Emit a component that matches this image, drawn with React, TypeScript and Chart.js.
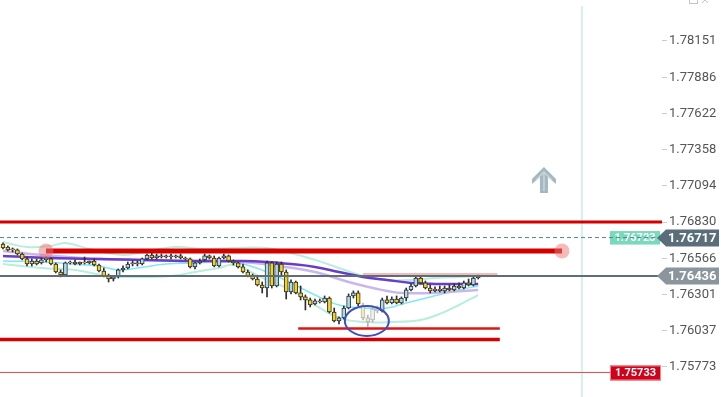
import React, { useEffect, useRef } from 'react';
import { Chart, registerables } from 'chart.js';
Chart.register(...registerables);

// ---- candle data (index = bar number) ----
const opens = [
  1.76670, 1.76648, 1.76634, 1.76627, 1.76597, 1.76561, 1.76524, 1.76546, 1.76532, 1.76554,
  1.76561, 1.76524, 1.76466, 1.76444, 1.76532, 1.76539, 1.76524, 1.76539, 1.76532, 1.76546,
  1.76517, 1.76473, 1.76437, 1.76415, 1.76430, 1.76481, 1.76495, 1.76524, 1.76532, 1.76524,
  1.76561, 1.76590, 1.76568, 1.76583, 1.76575, 1.76583, 1.76575, 1.76583, 1.76568, 1.76561,
  1.76503, 1.76532, 1.76554, 1.76583, 1.76568, 1.76510, 1.76568, 1.76583, 1.76546, 1.76532,
  1.76503, 1.76466, 1.76437, 1.76415, 1.76371, 1.76349, 1.76532, 1.76364, 1.76524, 1.76466,
  1.76320, 1.76393, 1.76313, 1.76284, 1.76262, 1.76233, 1.76255, 1.76247, 1.76276, 1.76174,
  1.76109, 1.76131, 1.76203, 1.76291, 1.76313, 1.76225, 1.76131, 1.76116, 1.76196, 1.76182,
  1.76262, 1.76240, 1.76269, 1.76240, 1.76276, 1.76335, 1.76364, 1.76422, 1.76386, 1.76349,
  1.76328, 1.76342, 1.76328, 1.76349, 1.76335, 1.76364, 1.76349, 1.76386, 1.76371, 1.76422,
];
const highs = [
  1.76678, 1.76656, 1.76641, 1.76634, 1.76605, 1.76575, 1.76561, 1.76561, 1.76568, 1.76575,
  1.76568, 1.76532, 1.76481, 1.76539, 1.76546, 1.76554, 1.76539, 1.76575, 1.76546, 1.76561,
  1.76524, 1.76495, 1.76451, 1.76437, 1.76488, 1.76510, 1.76539, 1.76546, 1.76546, 1.76568,
  1.76597, 1.76605, 1.76597, 1.76597, 1.76590, 1.76597, 1.76590, 1.76597, 1.76575, 1.76568,
  1.76539, 1.76561, 1.76597, 1.76590, 1.76583, 1.76575, 1.76597, 1.76590, 1.76554, 1.76539,
  1.76524, 1.76481, 1.76451, 1.76430, 1.76393, 1.76546, 1.76539, 1.76539, 1.76539, 1.76481,
  1.76408, 1.76400, 1.76364, 1.76298, 1.76276, 1.76269, 1.76269, 1.76291, 1.76284, 1.76203,
  1.76138, 1.76218, 1.76306, 1.76328, 1.76328, 1.76240, 1.76152, 1.76218, 1.76218, 1.76276,
  1.76291, 1.76284, 1.76291, 1.76284, 1.76349, 1.76379, 1.76437, 1.76437, 1.76400, 1.76371,
  1.76357, 1.76364, 1.76364, 1.76371, 1.76379, 1.76386, 1.76400, 1.76415, 1.76437, 1.76444,
];
const lows = [
  1.76634, 1.76619, 1.76612, 1.76590, 1.76554, 1.76510, 1.76510, 1.76517, 1.76524, 1.76539,
  1.76517, 1.76459, 1.76430, 1.76437, 1.76524, 1.76517, 1.76517, 1.76524, 1.76524, 1.76510,
  1.76466, 1.76430, 1.76393, 1.76400, 1.76422, 1.76466, 1.76488, 1.76510, 1.76510, 1.76517,
  1.76554, 1.76561, 1.76561, 1.76568, 1.76568, 1.76561, 1.76568, 1.76561, 1.76554, 1.76495,
  1.76488, 1.76524, 1.76546, 1.76561, 1.76503, 1.76503, 1.76561, 1.76539, 1.76517, 1.76495,
  1.76459, 1.76430, 1.76408, 1.76364, 1.76313, 1.76284, 1.76349, 1.76357, 1.76437, 1.76269,
  1.76306, 1.76306, 1.76262, 1.76189, 1.76211, 1.76225, 1.76240, 1.76240, 1.76167, 1.76101,
  1.76087, 1.76123, 1.76196, 1.76276, 1.76218, 1.76116, 1.76065, 1.76101, 1.76167, 1.76174,
  1.76233, 1.76233, 1.76233, 1.76233, 1.76255, 1.76328, 1.76357, 1.76379, 1.76342, 1.76313,
  1.76320, 1.76320, 1.76313, 1.76328, 1.76328, 1.76342, 1.76342, 1.76364, 1.76364, 1.76415,
];
const closes = [
  1.76641, 1.76627, 1.76627, 1.76597, 1.76561, 1.76524, 1.76546, 1.76524, 1.76554, 1.76568,
  1.76524, 1.76466, 1.76444, 1.76532, 1.76539, 1.76524, 1.76539, 1.76532, 1.76546, 1.76517,
  1.76473, 1.76437, 1.76415, 1.76430, 1.76481, 1.76495, 1.76524, 1.76532, 1.76524, 1.76561,
  1.76590, 1.76568, 1.76583, 1.76575, 1.76583, 1.76575, 1.76583, 1.76568, 1.76561, 1.76503,
  1.76532, 1.76546, 1.76583, 1.76568, 1.76510, 1.76568, 1.76583, 1.76546, 1.76532, 1.76503,
  1.76466, 1.76437, 1.76415, 1.76371, 1.76349, 1.76532, 1.76364, 1.76524, 1.76466, 1.76320,
  1.76393, 1.76313, 1.76284, 1.76262, 1.76225, 1.76255, 1.76247, 1.76276, 1.76174, 1.76109,
  1.76131, 1.76203, 1.76291, 1.76313, 1.76233, 1.76131, 1.76101, 1.76196, 1.76182, 1.76262,
  1.76240, 1.76269, 1.76240, 1.76276, 1.76335, 1.76364, 1.76422, 1.76386, 1.76349, 1.76328,
  1.76342, 1.76328, 1.76349, 1.76335, 1.76364, 1.76349, 1.76386, 1.76371, 1.76422, 1.76437,
];
const fadedCandles = [75, 76, 77, 78];

// ---- indicator lines (bar index, value) ----
const maSlowIdx = [0, 10, 20, 30, 40, 50, 55, 60, 65, 70, 75, 80, 85, 90, 95, 99];
const maSlow = [1.76583, 1.76568, 1.76561, 1.76554, 1.76546, 1.76546, 1.76539, 1.76524, 1.76503, 1.76466, 1.76430, 1.76408, 1.76386, 1.76379, 1.76379, 1.76379];
const maMidIdx = [0, 8, 20, 40, 50, 57, 65, 72, 78, 83, 89, 96, 99];
const maMid = [1.76619, 1.76590, 1.76561, 1.76546, 1.76539, 1.76510, 1.76466, 1.76393, 1.76342, 1.76313, 1.76313, 1.76328, 1.76335];
const maFastIdx = [0, 9, 14, 20, 24, 28, 34, 40, 46, 50, 55, 60, 65, 70, 75, 80, 84, 89, 95, 99];
const maFast = [1.76546, 1.76539, 1.76524, 1.76510, 1.76481, 1.76495, 1.76524, 1.76532, 1.76539, 1.76524, 1.76466, 1.76386, 1.76298, 1.76225, 1.76203, 1.76203, 1.76240, 1.76284, 1.76335, 1.76364];
const bandUpIdx = [0, 5, 10, 13, 18, 25, 30, 36, 42, 48, 55, 60, 65, 70, 75, 80, 85, 90, 95, 99];
const bandUp = [1.76685, 1.76648, 1.76656, 1.76678, 1.76634, 1.76590, 1.76619, 1.76648, 1.76634, 1.76641, 1.76641, 1.76605, 1.76554, 1.76495, 1.76437, 1.76408, 1.76408, 1.76422, 1.76430, 1.76437];
const bandLowIdx = [0, 8, 15, 22, 28, 35, 40, 45, 48, 55, 60, 65, 70, 75, 81, 87, 91, 95, 99];
const bandLow = [1.76524, 1.76495, 1.76481, 1.76437, 1.76430, 1.76437, 1.76466, 1.76495, 1.76517, 1.76408, 1.76335, 1.76225, 1.76131, 1.76101, 1.76101, 1.76116, 1.76160, 1.76225, 1.76298];

// ---- drawn levels ----
const xMin = -0.625;
const xMax = 137.29;
const levelPrices = [1.76830, 1.76619, 1.76436, 1.76451, 1.76054, 1.75974, 1.75733];
const levelFrom = [xMin, 8.96, xMin, 75, 61.5, xMin, xMin];
const levelTo = [xMax, 116.46, xMax, 103, 103.5, 103.5, 126.5];
const levelColors = ['#d40000', '#d40000', '#5e6d76', '#f2a3a3', '#e01414', '#d60000', '#e24848'];
const levelWidths = [3, 5, 2, 1.5, 2.5, 3.5, 1];
const bidPrice = 1.76717;
const askPrice = 1.76723;
const tagPrices = [1.76717, 1.76436];
const tagColors = ['#5a6e7a', '#8a969c'];
const stopPrice = 1.75733;
const nowBar = 120.6;
const ellipseAt = { bar: 75.8, price: 1.76109 };
const arrowAt = { bar: 112.7, price: 1.77137 };

const tickValues = [1.78151, 1.77886, 1.77622, 1.77358, 1.77094, 1.76830, 1.76566, 1.76301, 1.76037, 1.75773];
const yMin = 1.75554;
const yMax = 1.78450;

export default function App() {
  const ref = useRef<HTMLCanvasElement>(null);
  useEffect(() => {
    const canvas = ref.current!;
    const isBull = (i: number) => closes[i] > opens[i];
    const isFaded = (i: number) => fadedCandles.includes(i);
    const bodyFill = opens.map((_, i) =>
      isFaded(i) ? (isBull(i) ? '#e8f4f8' : '#f5ebb8') : isBull(i) ? '#a8dcee' : '#f6d21a'
    );
    const bodyBorder = opens.map((_, i) => (isFaded(i) ? '#b2b2b2' : '#2e2e2e'));
    const wickColor = opens.map((_, i) => (isFaded(i) ? '#b2b2b2' : '#2e2e2e'));
    const pts = (idx: number[], vals: number[]) => idx.map((k, j) => ({ x: k, y: vals[j] }));
    const lineDs = (data: any[], color: string, width: number, order: number) => ({
      type: 'line',
      data,
      borderColor: color,
      borderWidth: width,
      pointRadius: 0,
      tension: 0.4,
      fill: false,
      order,
    });

    const levelDs = levelPrices.map((p, j) => ({
      type: 'line',
      data: [
        { x: levelFrom[j], y: p },
        { x: levelTo[j], y: p },
      ],
      borderColor: levelColors[j],
      borderWidth: levelWidths[j],
      pointRadius: j === 1 ? 7.5 : 0,
      pointBackgroundColor: 'rgba(236,118,118,0.5)',
      pointBorderWidth: 0,
      tension: 0,
      order: 0,
    }));

    const overlay = {
      id: 'overlay',
      beforeDatasetsDraw(chart: any) {
        const { ctx, chartArea } = chart;
        const ys = chart.scales.y;
        const yy = ys.getPixelForValue(bidPrice);
        ctx.save();
        ctx.fillStyle = '#79d9bb';
        ctx.fillRect(chartArea.right - 52, yy - 6.5, 50, 13.5);
        ctx.fillStyle = '#ffffff';
        ctx.font = 'bold 11px Roboto';
        ctx.textAlign = 'center';
        ctx.textBaseline = 'middle';
        ctx.fillText(askPrice.toFixed(5), chartArea.right - 27, yy + 0.5);
        ctx.restore();
      },
      afterDraw(chart: any) {
        const { ctx, chartArea } = chart;
        const ys = chart.scales.y;
        const xs = chart.scales.x;
        ctx.save();
        // arrow-shaped price tags
        tagPrices.forEach((p, j) => {
          const yy = Math.round(ys.getPixelForValue(p));
          const left = chartArea.right - 5;
          ctx.beginPath();
          ctx.moveTo(left, yy);
          ctx.lineTo(left + 9, yy - 8.5);
          ctx.lineTo(719, yy - 8.5);
          ctx.lineTo(719, yy + 8.5);
          ctx.lineTo(left + 9, yy + 8.5);
          ctx.closePath();
          ctx.fillStyle = tagColors[j];
          ctx.fill();
          ctx.fillStyle = '#ffffff';
          ctx.font = 'bold 13px Roboto';
          ctx.textAlign = 'left';
          ctx.textBaseline = 'middle';
          ctx.fillText(p.toFixed(5), left + 11, yy + 0.5);
        });
        // red stop box
        const sy = ys.getPixelForValue(stopPrice);
        ctx.fillStyle = '#d0021b';
        ctx.fillRect(chartArea.right - 52, sy - 7, 51, 15);
        ctx.strokeStyle = 'rgba(245,150,150,0.9)';
        ctx.lineWidth = 1;
        ctx.strokeRect(chartArea.right - 51.5, sy - 6.5, 50, 14);
        ctx.fillStyle = '#ffffff';
        ctx.font = 'bold 11px Roboto';
        ctx.textAlign = 'center';
        ctx.textBaseline = 'middle';
        ctx.fillText(stopPrice.toFixed(5), chartArea.right - 26.5, sy + 1);
        // ellipse
        const ex = xs.getPixelForValue(ellipseAt.bar);
        const ey = ys.getPixelForValue(ellipseAt.price);
        ctx.beginPath();
        ctx.ellipse(ex, ey, 22, 15, 0, 0, Math.PI * 2);
        ctx.strokeStyle = '#3c4fc0';
        ctx.lineWidth = 2;
        ctx.stroke();
        // up arrow icon
        const ax = xs.getPixelForValue(arrowAt.bar);
        const ay = ys.getPixelForValue(arrowAt.price) - 13;
        ctx.beginPath();
        ctx.moveTo(ax, ay);
        ctx.lineTo(ax + 12, ay + 12);
        ctx.lineTo(ax + 12, ay + 17);
        ctx.lineTo(ax + 4, ay + 10);
        ctx.lineTo(ax + 4, ay + 26);
        ctx.lineTo(ax - 4, ay + 26);
        ctx.lineTo(ax - 4, ay + 10);
        ctx.lineTo(ax - 12, ay + 17);
        ctx.lineTo(ax - 12, ay + 12);
        ctx.closePath();
        ctx.fillStyle = '#a6b7c1';
        ctx.fill();
        ctx.beginPath();
        ctx.moveTo(ax - 8, ay + 13);
        ctx.lineTo(ax, ay + 5);
        ctx.lineTo(ax + 8, ay + 13);
        ctx.moveTo(ax, ay + 6);
        ctx.lineTo(ax, ay + 24);
        ctx.strokeStyle = '#c9d5dc';
        ctx.lineWidth = 1.5;
        ctx.stroke();
        // window icons top right
        ctx.strokeStyle = '#c4c4c4';
        ctx.lineWidth = 1;
        ctx.strokeRect(689.5, -4.5, 8, 8);
        ctx.beginPath();
        ctx.moveTo(702, -3);
        ctx.lineTo(708, 3);
        ctx.moveTo(708, -3);
        ctx.lineTo(702, 3);
        ctx.stroke();
        ctx.restore();
      },
    };

    const chart = new Chart(canvas, {
      type: 'bar',
      data: {
        datasets: [
          ...levelDs,
          {
            type: 'line',
            data: [
              { x: xMin, y: bidPrice },
              { x: xMax, y: bidPrice },
            ],
            borderColor: '#4f8884',
            borderWidth: 1,
            borderDash: [4, 3],
            pointRadius: 0,
            order: 0,
          },
          {
            type: 'bar',
            data: opens.map((o, i) => ({ x: i, y: [o, closes[i]] })),
            backgroundColor: bodyFill,
            borderColor: bodyBorder,
            borderWidth: 1,
            borderSkipped: false,
            barThickness: 4,
            grouped: false,
            order: 1,
          },
          {
            type: 'bar',
            data: lows.map((l, i) => ({ x: i, y: [l, highs[i]] })),
            backgroundColor: wickColor,
            borderWidth: 0,
            barThickness: 1,
            grouped: false,
            order: 2,
          },
          lineDs(pts(maSlowIdx, maSlow), '#6a3dc6', 2.5, 3),
          lineDs(pts(maMidIdx, maMid), '#c9b7ec', 2.5, 3),
          lineDs(pts(maFastIdx, maFast), '#80e8f2', 1.5, 3),
          lineDs(pts(bandUpIdx, bandUp), '#b7eedc', 2, 4),
          lineDs(pts(bandLowIdx, bandLow), '#b7eedc', 2, 4),
          {
            type: 'line',
            data: [
              { x: nowBar, y: 1.78406 },
              { x: nowBar, y: yMin },
            ],
            borderColor: '#d6ecf8',
            borderWidth: 2,
            pointRadius: 0,
            order: 5,
          },
        ] as any,
      },
      options: {
        animation: false,
        responsive: false,
        devicePixelRatio: 1,
        events: [],
        layout: { padding: 0, autoPadding: false },
        plugins: { legend: { display: false }, tooltip: { enabled: false } },
        scales: {
          x: {
            type: 'linear',
            display: false,
            min: xMin,
            max: xMax,
            offset: false,
            grid: { display: false },
          },
          y: {
            type: 'linear',
            position: 'right',
            min: yMin,
            max: yMax,
            afterBuildTicks: (s: any) => {
              s.ticks = tickValues.map((v) => ({ value: v }));
            },
            afterFit: (s: any) => {
              s.width = 59;
              s.paddingTop = 0;
              s.paddingBottom = 0;
            },
            ticks: {
              autoSkip: false,
              padding: 2,
              color: '#555555',
              font: { family: 'Roboto', size: 13 },
              callback: (v: any) => Number(v).toFixed(5),
            },
            grid: { drawOnChartArea: false, drawTicks: true, tickLength: 5, color: '#cccccc' },
            border: { display: false },
          },
        },
      } as any,
      plugins: [overlay],
    });
    return () => chart.destroy();
  }, []);
  return (
    <div style={{ position: 'fixed', left: 0, top: 0, width: 721, height: 397, background: '#fff' }}>
      <canvas ref={ref} width={721} height={397} style={{ display: 'block' }} />
    </div>
  );
}
